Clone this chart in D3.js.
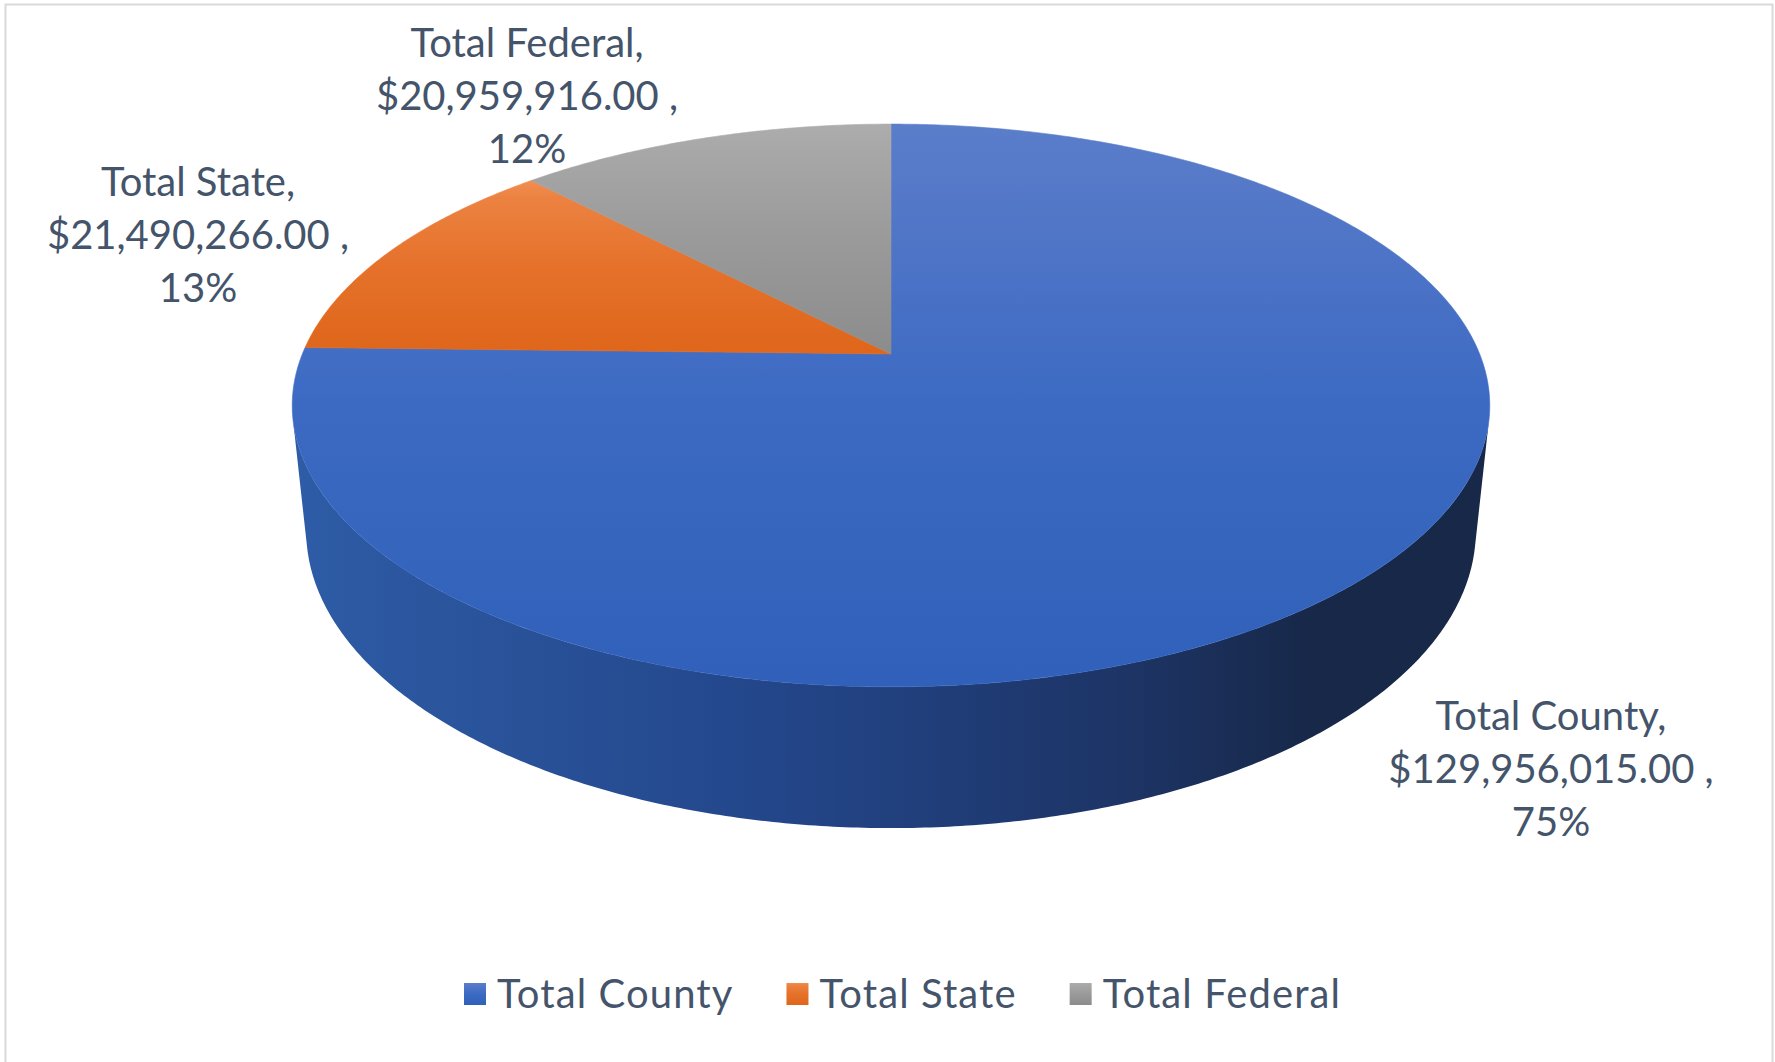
<!DOCTYPE html>
<html>
<head>
<meta charset="utf-8">
<script src="https://cdn.jsdelivr.net/npm/d3@7"></script>
<style>
  body { margin: 0; background: #fff; }
  svg { display: block; }
  text { font-family: Lato, "Open Sans", sans-serif; fill: #44546a; }
</style>
</head>
<body>
<div id="chart"></div>
<script>
// data
var categories = ["Total County", "Total State", "Total Federal"];
var values = [129956015, 21490266, 20959916];
var percentLabels = ["75%", "13%", "12%"];

// styles
var topColors = [["#5b7ecb", "#5679c8", "#3c6ac3", "#3060b9"],
                 ["#f08e50", "#ec8241", "#e5712a", "#df661b"],
                 ["#adadad", "#a8a8a8", "#9a9a9a", "#8c8c8c"]];
var sideColors = [["#2e5ca6", "#23468a", "#1d3465", "#172849"],
                  ["#c45a17", "#a94c12", "#8a3e0e", "#6e3009"],
                  ["#8a8a8a", "#737373", "#5e5e5e", "#4a4a4a"]];
var labelAnchors = [[1551, 730], [198, 196], [527, 57]];

var w = 1775, h = 1062;
var lineGap = 53;

// 3D view of the disc (perspective, looking down at the top face)
var cx = 891, cy = 354, F = 2855, dist = 4.85, sinP = 0.462, cosP = 0.887, thick = 0.242;

function project(a, y3) {
  var X = Math.sin(a), Z = -Math.cos(a);
  var depth = dist - (y3 * sinP + Z * cosP);
  return [cx + F * X / depth, cy + F * (Z * sinP - y3 * cosP) / depth];
}

function arcPoints(a0, a1, y3) {
  var step = Math.PI / 360;
  var n = Math.max(2, Math.ceil(Math.abs(a1 - a0) / step));
  return d3.range(n + 1).map(function(i) { return project(a0 + (a1 - a0) * i / n, y3); });
}

var svg = d3.select("#chart").append("svg")
  .attr("width", w)
  .attr("height", h);

svg.append("rect")
  .attr("x", 5.5).attr("y", 4.5)
  .attr("width", w - 8).attr("height", h + 10)
  .attr("fill", "#fff")
  .attr("stroke", "#d9d9d9")
  .attr("stroke-width", 2);

var defs = svg.append("defs");

topColors.forEach(function(c, i) {
  var g = defs.append("linearGradient")
    .attr("id", "top" + i)
    .attr("x1", 0).attr("y1", 0).attr("x2", 0).attr("y2", 1);
  g.append("stop").attr("offset", "0%").attr("stop-color", c[0]);
  g.append("stop").attr("offset", "10%").attr("stop-color", c[1]);
  g.append("stop").attr("offset", "50%").attr("stop-color", c[2]);
  g.append("stop").attr("offset", "100%").attr("stop-color", c[3]);
});

sideColors.forEach(function(c, i) {
  var g = defs.append("linearGradient")
    .attr("id", "side" + i)
    .attr("gradientUnits", "userSpaceOnUse")
    .attr("x1", cx - 600).attr("y1", 0).attr("x2", cx + 600).attr("y2", 0);
  g.append("stop").attr("offset", "0%").attr("stop-color", c[0]);
  g.append("stop").attr("offset", "40%").attr("stop-color", c[1]);
  g.append("stop").attr("offset", "70%").attr("stop-color", c[2]);
  g.append("stop").attr("offset", "85%").attr("stop-color", c[3]);
  g.append("stop").attr("offset", "100%").attr("stop-color", c[3]);
});

var pie = d3.pie().sort(null).value(function(d) { return d; });
var arcs = pie(values);

var line = d3.line();

// side wall, only the part that faces the viewer
var aVis = Math.acos(-1 / (dist * cosP));
arcs.forEach(function(s, i) {
  var a0 = Math.max(s.startAngle, aVis);
  var a1 = Math.min(s.endAngle, 2 * Math.PI - aVis);
  if (a1 <= a0) return;
  var pts = arcPoints(a0, a1, 0).concat(arcPoints(a1, a0, -thick));
  svg.append("path")
    .attr("d", line(pts) + "Z")
    .attr("fill", "url(#side" + i + ")");
});

// top faces
arcs.forEach(function(s, i) {
  var pts = [[cx, cy]].concat(arcPoints(s.startAngle, s.endAngle, 0));
  svg.append("path")
    .attr("d", line(pts) + "Z")
    .attr("fill", "url(#top" + i + ")")
    .attr("stroke", "url(#top" + i + ")")
    .attr("stroke-width", 0.6);
});

// data labels
var money = d3.format("$,.2f");
arcs.forEach(function(s, i) {
  var t = svg.append("text")
    .attr("text-anchor", "middle")
    .attr("font-size", 40);
  var lines = [categories[i] + ",", money(values[i]) + " ,", percentLabels[i]];
  lines.forEach(function(l, j) {
    t.append("tspan")
      .attr("x", labelAnchors[i][0])
      .attr("y", labelAnchors[i][1] + j * lineGap)
      .text(l);
  });
});

// legend
var legendY = 1008, box = 22, boxGap = 11, itemGap = 53, legendStart = 464;
var legend = svg.append("g").attr("transform", "translate(" + legendStart + ",0)");
var xPos = 0;
categories.forEach(function(c, i) {
  var g = legend.append("g").attr("transform", "translate(" + xPos + ",0)");
  g.append("rect")
    .attr("x", 0).attr("y", legendY - 25)
    .attr("width", box).attr("height", box)
    .attr("fill", "url(#top" + i + ")");
  var t = g.append("text")
    .attr("x", box + boxGap)
    .attr("y", legendY)
    .attr("font-size", 40)
    .attr("letter-spacing", 1.1)
    .text(c);
  xPos += box + boxGap + t.node().getComputedTextLength() + itemGap;
});
</script>
</body>
</html>
